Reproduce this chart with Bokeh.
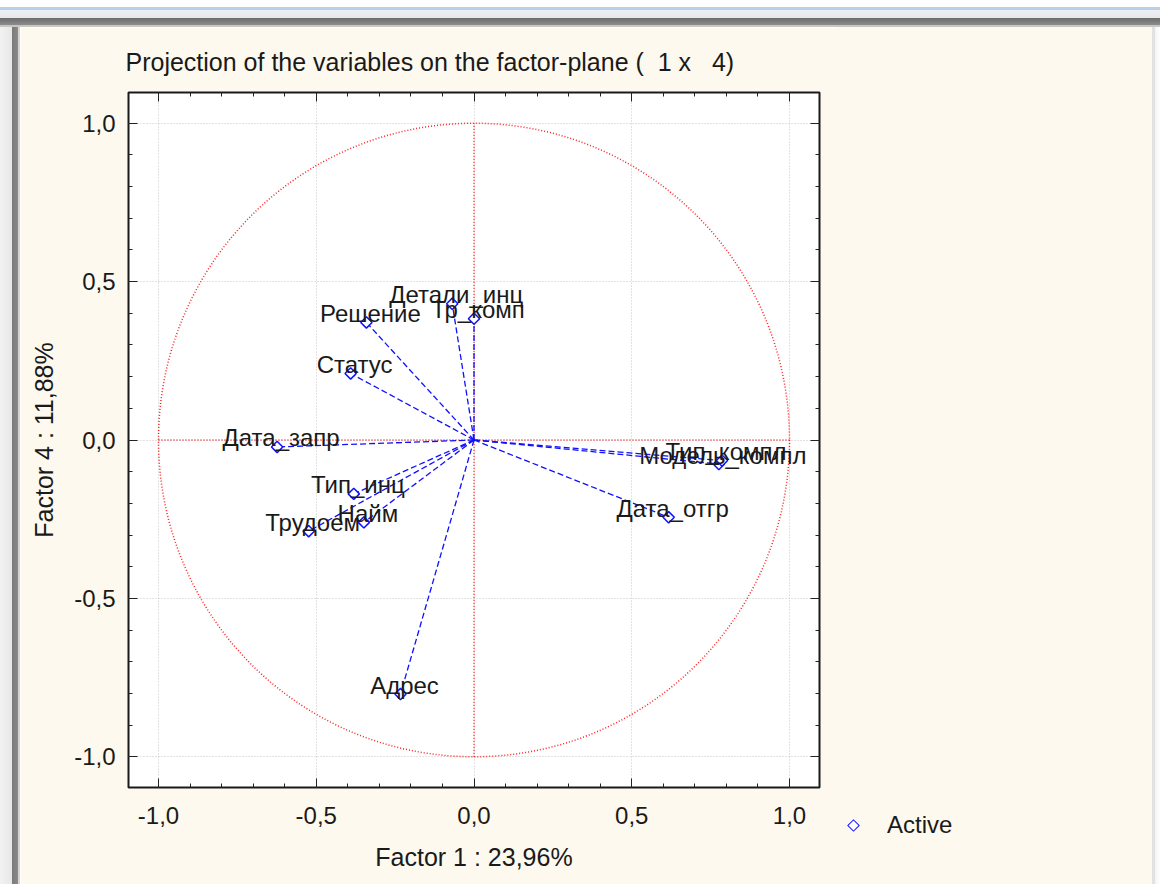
from bokeh.plotting import figure
from bokeh.layouts import column, row
from bokeh.models import (LinearAxis, FixedTicker, Range1d,
                          Grid, CustomJSTickFormatter, Div)
from bokeh.core.properties import value
from bokeh.embed import file_html
from bokeh.resources import INLINE
import numpy as np

# ---------------- data ----------------
variables = ["Дата_запр", "Решение", "Статус", "Детали_инц", "Тр_комп",
             "Модель_компл", "Тип_компл", "Дата_отгр", "Тип_инц", "Найм",
             "Трудоем", "Адрес"]
factor1 = [-0.624, -0.341, -0.391, -0.069, 0.000,
           0.776, 0.786, 0.617, -0.381, -0.349,
           -0.524, -0.233]
factor4 = [-0.022, 0.371, 0.210, 0.430, 0.383,
           -0.076, -0.065, -0.244, -0.170, -0.260,
           -0.288, -0.802]
tick_values = [-1.0, -0.5, 0.0, 0.5, 1.0]
tick_labels = ["-1,0", "-0,5", "0,0", "0,5", "1,0"]
title_text = "Projection of the variables on the factor-plane (  1 x   4)"
x_label = "Factor 1 : 23,96%"
y_label = "Factor 4 : 11,88%"
legend_label = "Active"

# ---------------- styling ----------------
FONT = "Liberation Sans"
CREAM = "#fdf9ee"
TXT = "#1a1a1a"
BLUE = "#1010ff"
RED = "#ff2020"
FS = "24px"

# window chrome sizes (page pixels)
TOP_BAR, LEFT_BAR, RIGHT_BAR = 27, 20, 8
PAGE_W, PAGE_H = 1160, 884
LEG_LEFT = 835                      # where the legend strip starts on the page
H = PAGE_H - TOP_BAR
W_MAIN = LEG_LEFT - LEFT_BAR
W_LEG = PAGE_W - RIGHT_BAR - LEG_LEFT
# frame position on the page
F_LEFT, F_TOP, F_RIGHT, F_BOTTOM = 128, 92, 819, 787

minor = [round(v, 2) for v in np.arange(-1.1, 1.1001, 0.1)]

p = figure(width=W_MAIN, height=H,
           x_range=Range1d(-1.095, 1.095), y_range=Range1d(-1.097, 1.097),
           output_backend="svg", toolbar_location=None,
           x_axis_type=None, y_axis_type=None,
           min_border_left=F_LEFT - LEFT_BAR,
           min_border_right=LEG_LEFT - F_RIGHT,
           min_border_top=F_TOP - TOP_BAR,
           min_border_bottom=PAGE_H - F_BOTTOM,
           background_fill_color="white", border_fill_color=CREAM,
           outline_line_color="#1a1a1a", outline_line_width=2)

# keep the runs of spaces of the original title
p.title.text = title_text.replace("  ", "\u00a0\u00a0")
p.title.text_font = FONT
p.title.text_font_size = "25px"
p.title.text_font_style = "normal"
p.title.text_color = TXT
p.title.align = "left"
p.title.offset = -3
p.title.standoff = 33

fmt = CustomJSTickFormatter(args=dict(vals=tick_values, labs=tick_labels),
                            code="const i = vals.indexOf(tick); return i >= 0 ? labs[i] : tick.toFixed(1).replace('.', ',');")
blank = CustomJSTickFormatter(code="return '';")


def make_axis(show, label=None, label_standoff=13, axis_label_standoff=14):
    ax = LinearAxis(ticker=FixedTicker(ticks=tick_values, minor_ticks=minor),
                    formatter=fmt if show else blank,
                    axis_line_color=None,
                    major_tick_in=9, major_tick_out=0,
                    minor_tick_in=4, minor_tick_out=0,
                    major_tick_line_color="#222222", minor_tick_line_color="#222222",
                    major_tick_line_width=1, minor_tick_line_width=1)
    if show:
        ax.major_label_text_font = FONT
        ax.major_label_text_font_size = FS
        ax.major_label_text_color = TXT
        ax.major_label_standoff = label_standoff
        ax.axis_label = label
        ax.axis_label_text_font = FONT
        ax.axis_label_text_font_size = "25px"
        ax.axis_label_text_font_style = "normal"
        ax.axis_label_text_color = TXT
        ax.axis_label_standoff = axis_label_standoff
    else:
        ax.major_label_text_font_size = "1px"
        ax.major_label_standoff = 0
    return ax


p.add_layout(make_axis(True, x_label, 19, 16), "below")
p.add_layout(make_axis(True, y_label, 13, 13), "left")
p.add_layout(make_axis(False), "above")
p.add_layout(make_axis(False), "right")

for dim in (0, 1):
    p.add_layout(Grid(dimension=dim, ticker=FixedTicker(ticks=tick_values),
                      grid_line_color="#c4c4c4", grid_line_dash="1 2",
                      grid_line_width=1))

# unit circle and axes through origin
p.ellipse(x=[0], y=[0], width=[2], height=[2], fill_color=None,
          line_color=RED, line_dash="1 2", line_width=1.5)
p.segment(x0=[-1, 0], y0=[0, -1], x1=[1, 0], y1=[0, 1],
          line_color=RED, line_dash="1 2", line_width=1.5)

# vectors
p.segment(x0=[0] * len(factor1), y0=[0] * len(factor4), x1=factor1, y1=factor4,
          line_color=BLUE, line_dash="6 3", line_width=1.3)

pts = p.scatter(x=factor1, y=factor4, marker="square", size=8, angle=np.pi / 4,
                fill_color="white", line_color=BLUE, line_width=1.5)

p.text(x=factor1, y=factor4, text=variables, text_font=value(FONT),
       text_font_size=FS, text_color=TXT, text_align="center",
       text_baseline="alphabetic", x_offset=4, y_offset=-9)

# legend strip to the right of the chart: diamond key + label, level with
# the x tick labels (below the plot frame)
leg_cy = 825 - TOP_BAR          # key centre inside the strip
KEY = 9                          # outer size of the key square before rotation
leg_html = (
    f'<div style="position:absolute;box-sizing:border-box;'
    f'left:{853 - LEG_LEFT - KEY / 2}px;top:{leg_cy - KEY / 2}px;'
    f'width:{KEY}px;height:{KEY}px;border:1.5px solid {BLUE};background:white;'
    f'transform:rotate(45deg);"></div>'
    f'<div style="position:absolute;left:{887 - LEG_LEFT}px;top:{leg_cy - 14}px;'
    f'font-family:\'{FONT}\';font-size:{FS};line-height:28px;color:{TXT};'
    f'white-space:nowrap;">{legend_label}</div>'
)
legend_strip = Div(text=leg_html, width=W_LEG, height=H, margin=0,
                   styles={"position": "relative", "background": CREAM,
                           "overflow": "hidden"})

# window chrome around the chart panel
top_bar = Div(text="", width=PAGE_W, height=TOP_BAR, margin=0, styles={
    "background": "linear-gradient(to bottom, #ffffff 0px, #ffffff 7px, #b8d0ea 7px, "
                  "#b8d0ea 10px, #eceef1 10px, #e6e8ea 18px, #6c6c6c 18px, #8c8c8c 25px, "
                  "#c8c6c0 25px, #c8c6c0 27px)"})
left_bar = Div(text="", width=LEFT_BAR, height=H, margin=0, styles={
    "background": "linear-gradient(to right, #f2f2f2 0px, #e8e8e8 12px, #7a7a7a 12px, "
                  "#8a8a8a 18px, #d6d4ce 18px, #d6d4ce 20px)"})
right_bar = Div(text="", width=RIGHT_BAR, height=H, margin=0, styles={
    "background": "linear-gradient(to right, #e2e2e2 0px, #e2e2e2 3px, #f4f4f4 3px, #ffffff 8px)"})

layout = column(top_bar, row(left_bar, p, legend_strip, right_bar, spacing=0), spacing=0)

open("out.html", "w").write(file_html(layout, INLINE))
